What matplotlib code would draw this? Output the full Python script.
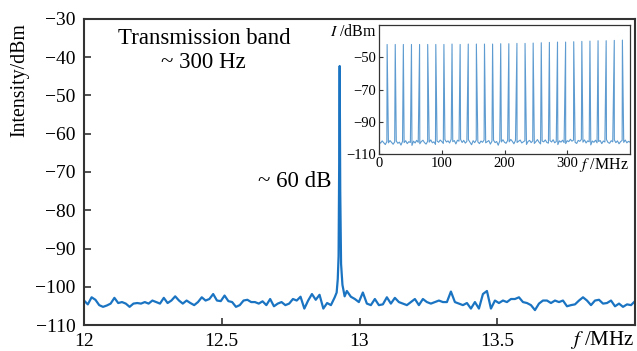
import numpy as np
import matplotlib
matplotlib.use('Agg')
import matplotlib.pyplot as plt

plt.rcParams['font.family'] = ['Liberation Serif', 'DejaVu Serif']
plt.rcParams['mathtext.fontset'] = 'stix'

# Main spectrum: noise floor left of the peak (12.00 .. 12.91 MHz)
left_noise = [
    -103.6, -104.6, -102.75, -103.4, -104.8, -105.25, -104.9, -104.4, -102.9, -104.25,
    -104.0, -104.4, -105.25, -104.4, -104.25, -104.4, -104.0, -104.4, -103.6, -104.0,
    -104.4, -102.9, -104.25, -103.6, -102.5, -103.6, -104.4, -103.6, -104.25, -104.8,
    -104.0, -102.75, -103.6, -103.2, -101.9, -103.6, -103.75, -102.3, -103.75, -104.0,
    -105.25, -104.8, -103.6, -103.4, -104.0, -104.0, -104.4, -103.8, -104.8, -103.2,
    -105.1, -104.4, -104.0, -104.8, -104.4, -103.2, -103.6, -102.6, -105.7, -103.6,
    -101.9, -103.4, -102.1, -105.7, -104.25, -104.8, -102.75,
]
# transmission peak at ~12.93 MHz
peak_freq = [12.917, 12.921, 12.924, 12.926, 12.928, 12.930, 12.933, 12.938, 12.946]
peak_level = [-101.5, -98.0, -92.0, -70.0, -42.3, -75.0, -94.0, -99.5, -102.5]
# noise floor right of the peak (12.954 .. 14.00 MHz)
right_noise = [
    -101.1, -102.6, -103.2, -104.0, -101.5, -104.4, -104.8, -103.2, -104.8, -104.6,
    -102.75, -104.4, -102.9, -104.0, -104.4, -104.8, -104.0, -103.2, -104.8, -103.2,
    -104.0, -104.4, -104.0, -103.6, -104.0, -104.0, -101.25, -104.0, -104.4, -104.8,
    -104.25, -105.7, -104.0, -105.7, -101.9, -101.1, -105.7, -103.6, -104.25, -103.6,
    -104.0, -103.2, -103.2, -102.75, -104.0, -104.25, -104.8, -106.1, -104.4, -103.6,
    -103.6, -104.25, -103.6, -104.0, -103.6, -105.1, -104.8, -104.6, -103.6, -102.75,
    -103.6, -104.8, -103.6, -103.4, -104.4, -104.25, -103.6, -105.1, -104.4, -105.25,
    -104.6, -104.8, -103.75,
]

# Inset: comb of 30 modes (12.93 MHz spacing) over 0..400 MHz
mode_number = list(range(1, 31))
fsr_mhz = 12.93
mode_level = [
    -42.0, -42.0, -42.0, -42.0, -42.0, -42.0, -42.0, -42.0, -41.75, -42.0,
    -41.75, -41.75, -41.75, -41.75, -41.55, -41.55, -41.34, -41.34, -41.13, -40.93,
    -40.72, -40.52, -40.52, -40.31, -40.1, -39.9, -39.69, -39.69, -39.48, -39.28,
]
inset_noise = [
    -102.5, -103.2, -101.8, -102.9, -104.1, -102.2, -103.0, -101.6, -102.8, -103.9,
    -102.4, -101.9, -103.3, -102.6, -104.4, -102.1, -102.9, -101.7, -103.5, -102.3,
    -102.8, -104.6, -102.0, -103.1, -101.5, -102.7, -103.6, -102.2, -101.4, -102.9,
    -103.8, -102.1, -102.6, -101.2, -103.0, -102.4, -104.0, -101.9, -102.7, -101.3,
    -102.2, -103.4, -101.0, -102.5, -101.8, -103.1, -100.8, -102.3, -101.6, -103.7,
    -101.4, -102.0, -100.9, -102.8, -101.5, -103.2, -102.1, -101.1, -102.6, -104.2,
    -101.7, -102.9, -101.3, -102.4, -103.5, -101.9, -102.7, -101.2, -103.0, -102.3,
    -101.6, -103.8, -102.0, -101.4, -102.9, -102.2, -104.5, -101.8, -102.5, -101.1,
    -102.7, -103.3, -101.6, -102.4, -100.9, -102.1, -103.6, -101.5, -102.8, -102.0,
    -101.3, -103.1, -102.4, -101.7, -104.0, -102.2, -101.5, -102.9, -101.8, -103.4,
    -102.3, -101.0, -102.6, -103.7, -101.9, -102.4, -101.2, -102.8, -103.2, -101.6,
    -102.5, -101.1, -103.0, -102.2, -104.1, -101.8, -102.6, -101.4, -102.9, -103.5,
    -101.7, -102.3, -100.8, -102.0, -101.3, -102.7, -103.4, -101.5, -102.1, -100.9,
    -102.6, -101.2, -103.1, -101.8, -102.4, -104.3, -101.9, -102.7, -101.4, -103.0,
    -102.2, -101.6, -103.5, -101.9, -102.5, -101.0, -102.8, -103.3, -101.7, -102.4,
    -101.2, -102.9, -101.8, -103.6, -102.3, -101.5, -102.7, -101.3, -103.0, -102.1,
    -102.6,
]

main_color = '#1b74c2'
inset_color = '#5d9bd0'
spine_color = '#333333'

fig = plt.figure(figsize=(6.37, 3.51), dpi=100)
ax = fig.add_axes([0.1319, 0.074, 0.865, 0.872])

# build the main trace
freq = np.concatenate([
    np.linspace(12.0, 12.91, len(left_noise)),
    np.array(peak_freq),
    np.linspace(12.954, 14.0, len(right_noise)),
])
level = np.concatenate([left_noise, peak_level, right_noise])
ax.plot(freq, level, color=main_color, lw=1.6)

ax.set_xlim(12, 14)
ax.set_ylim(-110, -30)
ax.set_xticks([12, 12.5, 13, 13.5])
ax.set_xticklabels(['12', '12.5', '13', '13.5'])
ax.set_yticks(np.arange(-110, -29, 10))
ax.tick_params(direction='in', length=5, width=1.2, labelsize=14, color=spine_color,
               pad=6)
for sp in ax.spines.values():
    sp.set_linewidth(1.5)
    sp.set_color(spine_color)

ax.set_ylabel('Intensity/dBm', fontsize=14.3)
ax.yaxis.set_label_coords(-0.1, 0.8)
ax.text(0.999, -0.05, '$f$ /MHz', transform=ax.transAxes, ha='right', va='center',
        fontsize=15)

ax.text(12.435, -35.0, 'Transmission band', ha='center', va='center', fontsize=16.5)
ax.text(12.435, -41.5, '~ 300 Hz', ha='center', va='center', fontsize=16.5)
ax.text(12.899, -72.6, '~ 60 dB', ha='right', va='center', fontsize=16.5)

# inset with the whole comb
axin = fig.add_axes([0.595, 0.561, 0.394, 0.3675])
base_f = np.linspace(0, 400, len(inset_noise))
mode_f = np.array(mode_number) * fsr_mhz
comb_f = np.concatenate([base_f, mode_f])
comb_l = np.concatenate([inset_noise, mode_level])
order = np.argsort(comb_f, kind='stable')
axin.plot(comb_f[order], comb_l[order], color=inset_color, lw=0.8)
axin.set_xlim(0, 400)
axin.set_ylim(-110, -30)
axin.set_xticks([0, 100, 200, 300])
axin.set_yticks([-110, -90, -70, -50])
axin.tick_params(direction='in', length=3, width=0.8, labelsize=10.5, pad=2,
                 color=spine_color)
for sp in axin.spines.values():
    sp.set_linewidth(0.9)
    sp.set_color(spine_color)
axin.text(0.995, -0.085, '$f$ /MHz', transform=axin.transAxes, ha='right', va='center',
          fontsize=11.5)
axin.text(-0.01, 0.95, '$I$ /dBm', transform=axin.transAxes, ha='right', va='center',
          fontsize=11.5)

fig.savefig('out.png', dpi=100)
